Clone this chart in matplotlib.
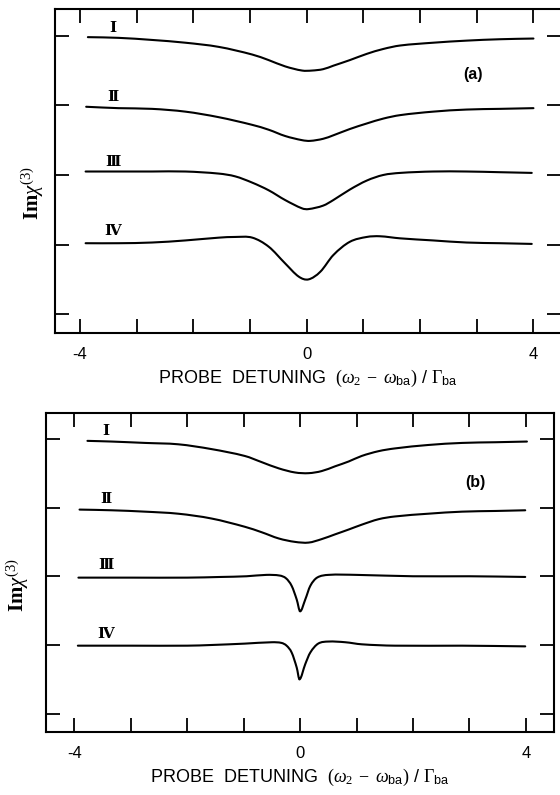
import matplotlib
matplotlib.use('Agg')
import matplotlib.pyplot as plt
from matplotlib.path import Path
from matplotlib.patches import PathPatch
import numpy as np

plt.rcParams['mathtext.fontset'] = 'custom'
plt.rcParams['mathtext.rm'] = 'Liberation Serif'
plt.rcParams['mathtext.it'] = 'Liberation Serif:italic'
plt.rcParams['mathtext.bf'] = 'Liberation Serif:bold'
plt.rcParams['mathtext.sf'] = 'Liberation Sans'
plt.rcParams['axes.unicode_minus'] = False

########################################################################
# panel (a) curves

a1_x = [-3.86, -3.32, -2.73, -2.14, -1.55, -0.96, -0.67, -0.38, -0.08, 0.09,
        0.29, 0.47, 0.76, 1.06, 1.35, 1.65, 2.23, 2.82, 3.41, 4.0]
a1_y = [3.98, 3.97, 3.94, 3.90, 3.84, 3.73, 3.65, 3.56, 3.50, 3.50,
        3.52, 3.57, 3.65, 3.74, 3.81, 3.86, 3.90, 3.93, 3.95, 3.96]

a2_x = [-3.89, -3.32, -2.73, -2.14, -1.55, -0.96, -0.67, -0.38, -0.08, 0.06,
        0.29, 0.47, 0.76, 1.06, 1.35, 1.65, 2.23, 2.82, 3.41, 4.0]
a2_y = [2.98, 2.96, 2.95, 2.91, 2.83, 2.72, 2.65, 2.56, 2.50, 2.49,
        2.52, 2.57, 2.66, 2.74, 2.81, 2.86, 2.91, 2.94, 2.95, 2.96]

a3_x = [-3.9, -3.32, -2.73, -2.14, -1.55, -1.26, -0.96, -0.67, -0.38, -0.08, 0.03,
        0.29, 0.47, 0.76, 1.06, 1.35, 1.65, 2.23, 2.82, 3.41, 3.97]
a3_y = [2.05, 2.05, 2.05, 2.05, 2.02, 1.98, 1.89, 1.78, 1.64, 1.52, 1.51,
        1.56, 1.64, 1.79, 1.92, 2.00, 2.03, 2.05, 2.05, 2.04, 2.03]

a4_x = [-3.9, -3.32, -2.73, -2.14, -1.55, -1.26, -0.96, -0.67, -0.38, -0.14, 0.03,
        0.24, 0.47, 0.76, 1.06, 1.29, 1.65, 2.23, 2.82, 3.41, 3.97]
a4_y = [1.02, 1.02, 1.03, 1.06, 1.10, 1.11, 1.10, 0.97, 0.73, 0.54, 0.50,
        0.61, 0.85, 1.04, 1.11, 1.12, 1.09, 1.06, 1.03, 1.02, 1.01]

# panel (b)

b1_x = [-3.77, -3.34, -2.75, -2.16, -1.57, -0.98, -0.68, -0.38, -0.09, 0.15,
        0.38, 0.62, 0.86, 1.09, 1.39, 1.68, 2.27, 2.87, 3.46, 4.02]
b1_y = [3.97, 3.96, 3.94, 3.92, 3.85, 3.75, 3.66, 3.57, 3.51, 3.50,
        3.53, 3.60, 3.67, 3.75, 3.82, 3.86, 3.91, 3.94, 3.95, 3.96]

b2_x = [-3.91, -3.34, -2.75, -2.16, -1.57, -0.98, -0.68, -0.38, -0.09, 0.15,
        0.38, 0.62, 0.86, 1.09, 1.39, 1.68, 2.27, 2.87, 3.46, 3.99]
b2_y = [2.97, 2.96, 2.94, 2.91, 2.84, 2.72, 2.64, 2.55, 2.50, 2.49,
        2.54, 2.61, 2.68, 2.75, 2.83, 2.87, 2.91, 2.94, 2.95, 2.96]

b3_x = [-3.93, -3.0, -2.0, -1.4, -0.95, -0.6, -0.36, -0.25, -0.15, -0.06, 0.0,
        0.09, 0.18, 0.30, 0.50, 1.0, 2.0, 3.0, 3.99]
b3_y = [1.98, 1.98, 1.98, 1.99, 2.00, 2.02, 2.01, 1.97, 1.86, 1.66, 1.49,
        1.66, 1.86, 1.98, 2.02, 2.02, 2.00, 2.00, 1.99]

b4_x = [-3.94, -3.0, -2.0, -1.57, -0.98, -0.5, -0.33, -0.24, -0.15, -0.06, -0.01,
        0.09, 0.18, 0.32, 0.50, 0.80, 1.09, 1.68, 2.87, 3.99]
b4_y = [0.99, 0.99, 0.99, 1.00, 1.02, 1.04, 1.03, 0.99, 0.89, 0.67, 0.50,
        0.72, 0.89, 1.02, 1.05, 1.04, 1.01, 0.99, 0.99, 0.98]

curve_names = ['\u2160', '\u2161', '\u2162', '\u2163']
a_name_y = [4.11, 3.12, 2.18, 1.20]
b_name_y = [4.11, 3.12, 2.16, 1.16]

xticks = [-4, -3, -2, -1, 0, 1, 2, 3, 4]
xticklabels = ['-4', '', '', '', '0', '', '', '', '4']
yticks = [0, 1, 2, 3, 4]

########################################################################

def tangents(x, y):
    # central-difference slopes at each read point
    m = np.zeros(len(x))
    m[0] = (y[1] - y[0]) / (x[1] - x[0])
    m[-1] = (y[-1] - y[-2]) / (x[-1] - x[-2])
    m[1:-1] = (y[2:] - y[:-2]) / (x[2:] - x[:-2])
    return m

def smooth_curve(ax, xs, ys, **kw):
    # join the read points with cubic Bezier segments
    x = np.asarray(xs, float)
    y = np.asarray(ys, float)
    m = tangents(x, y)
    verts = [(x[0], y[0])]
    codes = [Path.MOVETO]
    for i in range(len(x) - 1):
        h = x[i + 1] - x[i]
        verts += [(x[i] + h / 3, y[i] + m[i] * h / 3),
                  (x[i + 1] - h / 3, y[i + 1] - m[i + 1] * h / 3),
                  (x[i + 1], y[i + 1])]
        codes += [Path.CURVE4] * 3
    ax.add_patch(PathPatch(Path(verts, codes), fill=False, **kw))

########################################################################

fig = plt.figure(figsize=(5.6, 7.95), dpi=100)
ax_a = fig.add_axes([0.0982, 0.5811, 0.904, 0.4072])
ax_b = fig.add_axes([0.0816, 0.0789, 0.9077, 0.402])

xlabel = r'PROBE  DETUNING  $(\omega_2\;-\;\omega_{\mathsf{ba}})$ / $\Gamma_{\mathsf{ba}}$'

def setup(ax, xlim):
    ax.set_xlim(xlim)
    ax.set_ylim(-0.27, 4.38)
    ax.set_xticks(xticks)
    ax.set_xticklabels(xticklabels, family='Liberation Sans', fontsize=12)
    ax.set_yticks(yticks)
    ax.set_yticklabels([])
    ax.tick_params(direction='in', length=10, width=1.3, top=True, right=True,
                   labeltop=False, labelright=False, pad=10)
    for s in ax.spines.values():
        s.set_linewidth(1.5)
    ax.set_xlabel(xlabel, family='Liberation Sans', fontsize=13, labelpad=4)

setup(ax_a, (-4.44, 4.49))
setup(ax_b, (-4.51, 4.50))

for ax, xs, ys, name_y, name_x in [
        (ax_a, [a1_x, a2_x, a3_x, a4_x], [a1_y, a2_y, a3_y, a4_y], a_name_y, -3.42),
        (ax_b, [b1_x, b2_x, b3_x, b4_x], [b1_y, b2_y, b3_y, b4_y], b_name_y, -3.45)]:
    for i in range(4):
        smooth_curve(ax, xs[i], ys[i], edgecolor='black', lw=1.5, capstyle='round')
        ax.text(name_x, name_y[i], curve_names[i], family=['DejaVu Serif', 'DejaVu Sans'],
                fontsize=11, fontweight='bold', ha='center', va='center')

ax_a.text(2.93, 3.45, '(a)', family='Liberation Sans', fontsize=11.5, fontweight='bold',
          ha='center', va='center')
ax_b.text(3.10, 3.37, '(b)', family='Liberation Sans', fontsize=11.5, fontweight='bold',
          ha='center', va='center')

ylabel = r'$\mathbf{Im}\chi^{(3)}$'
fig.text(0.059, 0.757, ylabel, fontsize=15, rotation=90, ha='center', va='center')
fig.text(0.032, 0.264, ylabel, fontsize=15, rotation=90, ha='center', va='center')

fig.savefig('out.png', dpi=100, facecolor='white')
